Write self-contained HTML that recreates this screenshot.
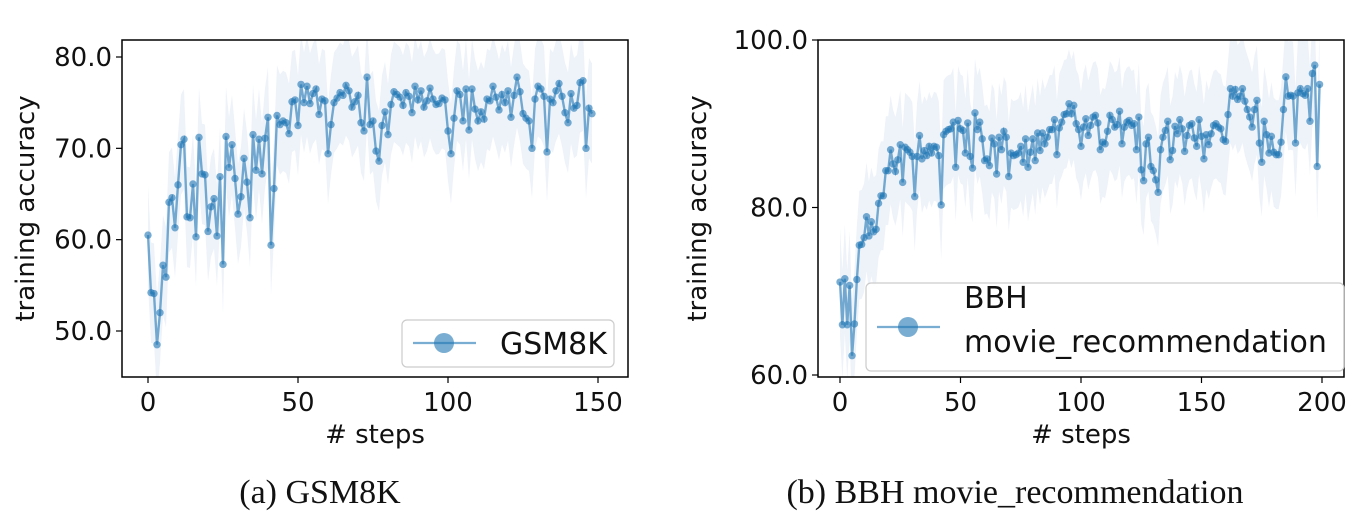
<!DOCTYPE html>
<html><head><meta charset="utf-8"><style>
body{margin:0;background:#fff;width:1371px;height:526px;overflow:hidden}
svg text{font-family:"DejaVu Sans","Liberation Sans",sans-serif;fill:#111}
</style></head><body>
<svg id="s" width="1371" height="526"></svg>
<script>
const gsmVals=[60.5,54.2,54.1,48.5,52,57.2,55.9,64.1,64.6,61.3,66,70.4,71,62.5,62.4,66.1,60.3,71.2,67.2,67.1,60.9,63.6,64.5,60.4,66.9,57.3,71.3,67.9,70.4,66.7,62.8,64.7,68.9,66.3,62.4,71.5,67.6,71,67.2,71.1,73.4,59.4,65.6,73.6,72.6,73,72.8,71.6,75.1,75.3,72.5,77,75,76.8,74.9,76,76.5,73.7,75.4,75.2,69.4,72.6,75,75.5,76.1,75.8,76.9,76.3,74.5,75.1,75.8,72.8,71.9,77.8,72.6,73,69.7,68.6,72.5,74,71.5,74.8,76.2,75.9,75.6,74.7,76.1,75.7,73.9,76.8,75.3,76.3,74.5,75.2,76.6,75.4,74.8,74.9,75.5,75.3,71.9,69.4,73.3,76.3,75.9,73,76.5,72,76.5,74.3,73,74,73.2,75.4,75.2,76.8,75.6,74.2,75.9,75,76.3,73.4,75.8,77.8,76.2,73.8,73.3,73,70,75.4,76.8,76.5,75.7,69.6,75.4,75,76.3,77.1,75.7,73.9,72.8,76,74.4,74.7,77.2,77.4,70,74.4,73.8];
const bbhVals=[71.1,66,71.5,66,70.7,62.3,66.1,71.4,75.5,75.6,76.4,78.9,76.6,78.3,77.1,77.4,80.5,81.4,81.4,84.4,84.4,86.9,85.2,84.3,85.7,87.5,83,87.2,86.9,86.6,86.1,81.3,86.1,88.6,85.8,86.8,86.2,87.3,86.5,87.3,87.2,86.2,80.3,88.7,89.1,89.3,89.4,90.2,84.8,90.4,89.4,89.2,86.5,90.1,86.1,84.7,91.3,89.3,90.2,88.2,85.6,85.8,85,88.3,87.6,84,88.4,86.9,89.1,88.4,83.7,86.5,86.2,86.3,86.5,87.3,85.4,88.2,84.8,86.6,88.2,85.6,88.9,86.8,88.9,87.6,88.4,89.3,89.3,90.5,86.3,89.5,90.2,91.1,91.2,92.4,91.2,92.2,90,89.3,87.3,89.6,90.6,88.6,89.8,90.8,91,90.1,86.9,87.8,87.6,89.1,91,90.5,89.6,89.9,91.5,87.6,89.6,90.2,90.4,89.8,90,86.9,90.8,84.5,83.2,87.6,88.4,84.9,84.4,83.3,81.8,86.9,88.4,89.2,90.3,85.7,86.8,89.7,88.8,90.5,89.4,86.7,88.6,89.8,90,88.3,87.3,90.5,88.5,85.8,88.7,87.5,88.8,89.8,90,89.6,89.4,88.1,87.9,91.1,94.2,93.3,94.1,92.9,93.3,94.2,92.7,91.7,90.8,89.6,91.7,92.8,87.7,85.4,90.3,88.7,86.5,88.5,86.6,86.3,86.3,87.8,91.7,95.6,93.3,93.4,93.3,87.7,93.7,94.2,93.6,93.4,94.2,90.3,96,97,84.9,94.7];
const gsmXTicks=[0,50,100,150];
const gsmYTicks=[50,60,70,80];
const bbhXTicks=[0,50,100,150,200];
const bbhYTicks=[60,80,100];
const NS="http://www.w3.org/2000/svg";
const svg=document.getElementById('s');
function el(tag,attrs,parent,text){const e=document.createElementNS(NS,tag);for(const k in attrs)e.setAttribute(k,attrs[k]);if(text!==undefined)e.textContent=text;(parent||svg).appendChild(e);return e;}
function chart(cfg){
  const g=el('g',{});
  
  
  const L=cfg.box[0],T=cfg.box[1],R=cfg.box[2],B=cfg.box[3];
  const sx=v=>cfg.x0px+(v-0)*(cfg.x1px-cfg.x0px)/(cfg.x1v);
  const sy=v=>cfg.yA[1]+(v-cfg.yA[0])*(cfg.yB[1]-cfg.yA[1])/(cfg.yB[0]-cfg.yA[0]);
  const clip=el('clipPath',{id:cfg.name+'-clip'},g);el('rect',{x:L,y:T,width:R-L,height:B-T},clip);
  const vals=cfg.vals;
  let up='';
  vals.forEach((v,i)=>{up+=(i?'L':'M')+sx(i)+','+sy(v+cfg.spread);});
  for(let i=vals.length-1;i>=0;i--)up+='L'+sx(i)+','+sy(vals[i]-cfg.spread);
  const band=el('path',{d:up+'Z',fill:'#eef3fa','clip-path':'url(#'+cfg.name+'-clip)'},g);
  
  
  const line=el('polyline',{points:vals.map((v,i)=>sx(i)+','+sy(v)).join(' '),fill:'none',stroke:'#1f77b4','stroke-opacity':0.6,'stroke-width':2.4},g);
  
  
  vals.forEach((v,i)=>{const c=el('circle',{cx:sx(i),cy:sy(v),r:3.7,fill:'#1f77b4','fill-opacity':0.6},g);
    
    });
  el('rect',{x:L,y:T,width:R-L,height:B-T,fill:'none',stroke:'#000','stroke-width':1.5},g);
  cfg.xt.forEach(t=>{const x=sx(t);el('line',{x1:x,x2:x,y1:B,y2:B+6,stroke:'#000','stroke-width':1.2},g);
    const tx=el('text',{x:x,y:B+34,'text-anchor':'middle','font-size':26},g,String(t));
    
    });
  cfg.yt.forEach(t=>{const y=sy(t);el('line',{x1:L-6,x2:L,y1:y,y2:y,stroke:'#000','stroke-width':1.2},g);
    const tx=el('text',{x:L-10,y:y+9,'text-anchor':'end','font-size':26},g,t.toFixed(1));
    
    });
  const xl=el('text',{x:(L+R)/2,y:B+66,'text-anchor':'middle','font-size':26},g,'# steps');
  
  
  const yl=el('text',{x:0,y:0,'text-anchor':'middle','font-size':26,transform:'translate('+cfg.ylx+','+(T+B)/2+') rotate(-90)'},g,'training accuracy');
  
  
  const cap=el('text',{x:cfg.capx,y:503,'text-anchor':'middle','font-size':34,style:'font-family:"Liberation Serif",serif'},g,cfg.cap);
  
  
  const lg=el('g',{},g);
  
  
  const b=cfg.leg;
  el('rect',{x:b[0],y:b[1],width:b[2],height:b[3],rx:5,fill:'#fff','fill-opacity':0.8,stroke:'#ccc','stroke-width':1.2},lg);
  el('line',{x1:b[0]+11,x2:b[0]+74,y1:b[4],y2:b[4],stroke:'#1f77b4','stroke-opacity':0.6,'stroke-width':2.2},lg);
  el('circle',{cx:b[0]+42,cy:b[4],r:10,fill:'#1f77b4','fill-opacity':0.6},lg);
  cfg.legText.forEach((s,i)=>{const t=el('text',{x:b[0]+98,y:b[5]+i*44,'font-size':30},lg,s);
    
    });
}
chart({name:'gsm8k-chart',vals:gsmVals,box:[122,40,628,377],x0px:148,x1px:598,x1v:150,yA:[80,57],yB:[50,331],spread:5.5,xt:gsmXTicks,yt:gsmYTicks,ylx:34,capx:320,cap:'(a)  GSM8K',leg:[402,320,212,47,343,354],legText:['GSM8K']});
chart({name:'bbh-chart',vals:bbhVals,box:[818,40,1344,377],x0px:840,x1px:1322,x1v:200,yA:[100,40],yB:[60,375],spread:6.5,xt:bbhXTicks,yt:bbhYTicks,ylx:706,capx:1015,cap:'(b)  BBH movie_recommendation',leg:[866,283,478,88,327,308],legText:['BBH','movie_recommendation']});
</script>
</body></html>
